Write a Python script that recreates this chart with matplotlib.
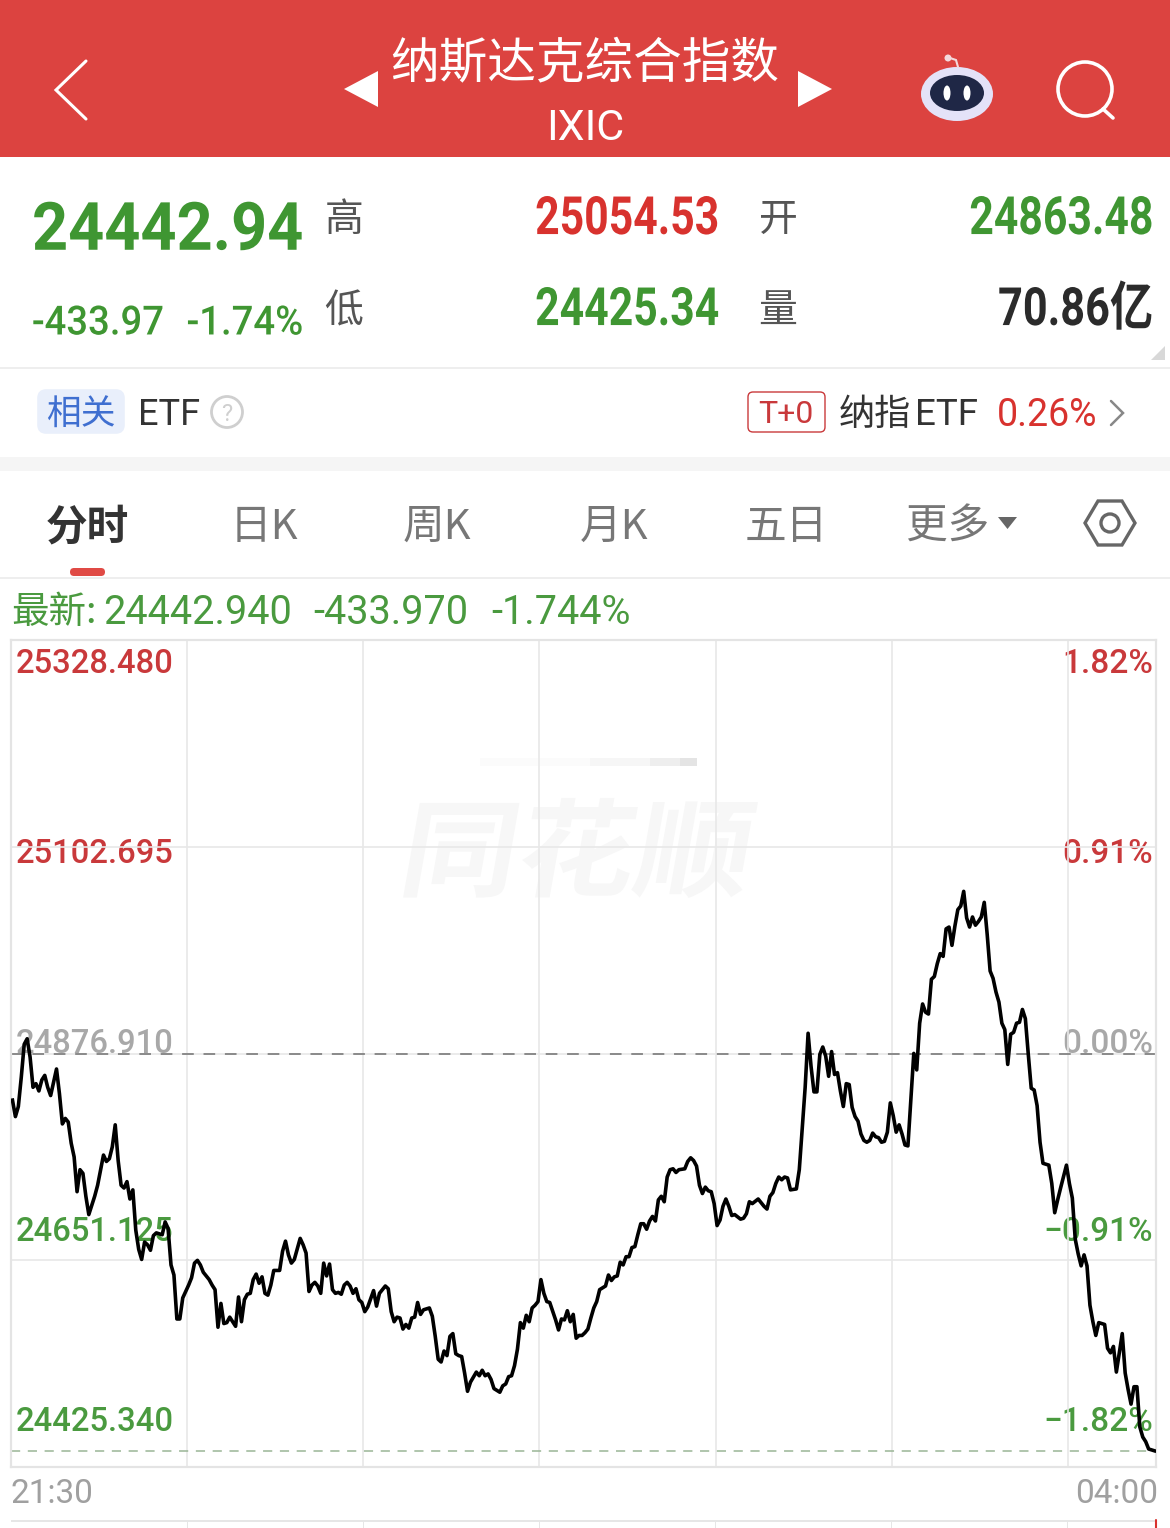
#!/usr/bin/env python3
import numpy as np
import matplotlib
matplotlib.use("Agg")
import matplotlib.pyplot as plt
from matplotlib.patches import Rectangle, FancyBboxPatch, Polygon, Circle, Ellipse, PathPatch
from matplotlib.patheffects import AbstractPathEffect
from matplotlib.textpath import TextPath
from matplotlib.font_manager import FontProperties
from matplotlib.transforms import Affine2D

plt.rcParams['font.family'] = ['Noto Sans CJK SC', 'DejaVu Sans']

W, H = 1170, 1528

#--------------------------------------------------------------------------#
# minutes after 21:30 and index price
minutes = [0,1,2,3,4,5,6,7,8,9,10,11,12,13,15,16,17,18,19,20,21,22,23,24,25,26,28,29,31,32,33,34,35,36,37,38,39,40,
    41,42,43,44,45,46,47,48,49,51,52,53,54,55,56,57,58,60,61,62,63,64,65,67,68,69,70,71,72,73,74,75,76,77,78,79,80,
    81,82,83,84,85,86,87,88,89,91,92,93,94,95,96,98,99,100,101,102,103,104,105,106,107,108,109,110,111,112,113,114,
    115,116,117,118,119,120,121,123,124,125,127,128,129,130,131,132,133,134,135,136,137,138,139,140,142,143,144,145,
    146,147,148,149,150,151,152,153,154,155,156,158,159,160,161,162,163,164,166,167,168,169,170,171,172,173,174,175,
    176,177,178,179,180,181,182,183,185,186,187,188,189,190,191,192,193,194,195,196,197,198,199,200,202,203,204,205,
    206,207,208,209,210,211,212,213,214,215,216,217,218,219,220,221,222,223,224,225,226,227,229,230,231,232,233,234,
    235,236,237,238,239,240,241,242,243,244,245,246,248,249,250,251,252,254,255,256,257,258,259,260,261,262,263,264,
    265,267,268,270,271,272,273,274,275,276,277,278,279,280,281,282,283,284,285,286,287,288,289,290,291,292,293,294,
    295,296,297,298,299,300,301,302,303,304,305,306,307,308,309,310,311,312,313,314,315,316,317,318,319,320,321,322,
    323,324,325,326,327,328,329,330,331,332,333,334,335,336,337,338,339,340,341,342,343,344,345,346,347,348,349,350,
    351,353,354,355,356,357,359,360,361,362,363,364,365,366,367,368,369,370,372,373,374,375,376,378,379,380,381,382,
    383,384,385,386,387,388,389]
prices = [24826,24808,24819,24851,24887,24893,24873,24840,24844,24836,24848,24853,24840,24831,24860,24833,24800,24806,
    24802,24779,24764,24726,24750,24746,24721,24701,24721,24733,24766,24759,24762,24775,24799,24760,24733,24730,24737,
    24718,24728,24684,24663,24652,24671,24668,24662,24678,24681,24679,24693,24686,24646,24635,24587,24587,24610,24624,
    24632,24648,24651,24646,24638,24630,24624,24619,24578,24604,24582,24583,24589,24584,24579,24611,24584,24608,24614,
    24615,24630,24636,24626,24633,24615,24613,24624,24640,24640,24661,24672,24657,24648,24652,24675,24668,24659,24617,
    24624,24627,24623,24615,24648,24634,24647,24619,24615,24616,24614,24624,24627,24623,24615,24620,24608,24605,24595,
    24600,24618,24601,24615,24623,24620,24595,24584,24589,24588,24576,24581,24577,24588,24589,24605,24592,24597,24599,
    24590,24568,24543,24540,24552,24547,24568,24571,24549,24547,24546,24528,24508,24518,24529,24525,24531,24525,24527,
    24521,24511,24507,24514,24516,24524,24525,24536,24554,24583,24577,24591,24584,24599,24602,24606,24630,24615,24606,
    24605,24586,24575,24587,24586,24596,24584,24592,24566,24569,24569,24572,24576,24588,24599,24606,24619,24623,24635,
    24629,24633,24634,24649,24646,24655,24655,24665,24666,24679,24691,24691,24685,24694,24699,24694,24717,24721,24715,
    24742,24750,24751,24747,24750,24751,24759,24763,24760,24754,24733,24724,24731,24727,24726,24713,24689,24695,24710,
    24718,24710,24700,24701,24696,24697,24702,24715,24713,24718,24714,24710,24707,24721,24725,24735,24742,24739,24742,
    24741,24728,24729,24750,24840,24899,24863,24835,24835,24876,24884,24874,24852,24879,24854,24856,24836,24819,24844,
    24843,24818,24808,24803,24789,24782,24780,24782,24790,24786,24785,24780,24781,24791,24823,24809,24791,24799,24789,
    24777,24776,24827,24877,24859,24910,24931,24922,24920,24958,24961,24975,24986,24983,25013,25015,24995,25016,25034,
    25038,25054,25025,25015,25026,25017,25021,25026,25042,25007,24967,24959,24944,24933,24910,24903,24865,24898,24900,
    24910,24911,24925,24915,24876,24839,24837,24820,24780,24757,24755,24735,24703,24717,24730,24755,24735,24719,24674,
    24658,24645,24657,24645,24602,24584,24569,24583,24581,24555,24550,24557,24529,24571,24528,24510,24494,24513,24513,
    24469,24458,24453,24445,24444,24443]

prev_close = 24876.91
last_price = 24442.94
price_labels = ["25328.480", "25102.695", "24876.910", "24651.125", "24425.340"]
price_levels = [25328.48, 25102.695, 24876.91, 24651.125, 24425.34]
pct_labels = ["1.82%", "0.91%", "0.00%", "\u22120.91%", "\u22121.82%"]
label_colors = ["#c9393b", "#c9393b", "#a8a8a8", "#4a9a3f", "#4a9a3f"]
hour_ticks = [0, 60, 120, 180, 240, 300, 360, 390]
tabs = ["分时", "日K", "周K", "月K", "五日", "更多"]

RED = "#dc4340"
GREEN = "#3f9632"
PRICE_RED = "#d8322e"
CJK = ['Noto Sans CJK SC', 'DejaVu Sans']
LAB_FONT = ['Roboto', 'Noto Sans CJK SC']

#--------------------------------------------------------------------------#
class Squeeze(AbstractPathEffect):
    # narrows a text sideways around its anchor, the app uses a condensed face
    def __init__(self, sx, anchor):
        super().__init__()
        self.sx, self.anchor = sx, anchor

    def draw_path(self, renderer, gc, tpath, affine, rgbFace=None):
        t = affine + Affine2D().translate(-self.anchor, 0).scale(self.sx, 1).translate(self.anchor, 0)
        renderer.draw_path(gc, tpath, t, rgbFace)

fig = plt.figure(figsize=(W / 100, H / 100), dpi=100, facecolor="white")

# whole-figure axes in pixels for the app chrome
ui = fig.add_axes([0, 0, 1, 1], zorder=1)
ui.set_xlim(0, W)
ui.set_ylim(H, 0)
ui.axis("off")

def txt(x, y, s, size, color="#333333", ha="left", weight="normal", family=None, zorder=5, sx=None):
    # small downward nudge: the font's line box sits above the glyph centre
    t = ui.text(x, y + 0.12 * size, s, fontsize=size, color=color, ha=ha, va="center", weight=weight,
                family=family or CJK, zorder=zorder)
    if sx:
        t.set_path_effects([Squeeze(sx, x)])
    return t

def stroke(xs, ys, color, lw, zorder=5):
    ui.plot(xs, ys, color=color, lw=lw, solid_capstyle="round", solid_joinstyle="miter", zorder=zorder)

# header
ui.add_patch(Rectangle((0, 0), W, 157, fc=RED, ec="none"))
stroke([86, 56, 86], [61, 90, 119], "white", 2.2)
ui.add_patch(Polygon([[378, 71], [378, 107], [344, 89]], fc="white", ec="none"))
ui.add_patch(Polygon([[798, 71], [798, 107], [832, 89]], fc="white", ec="none"))
txt(585, 59, "纳斯达克综合指数", 35, "white", ha="center")
txt(585, 125, "IXIC", 31, "white", ha="center", family=LAB_FONT)

# robot icon
ui.add_patch(Ellipse((957, 94), 72, 54, fc="#e4e2f8", ec="none", zorder=5))
ui.add_patch(Ellipse((957, 93), 54, 36, fc="#1f2746", ec="none", zorder=6))
ui.add_patch(Ellipse((947, 93), 7, 15, fc="white", ec="none", zorder=7))
ui.add_patch(Ellipse((967, 93), 7, 15, fc="white", ec="none", zorder=7))
ui.add_patch(Circle((948, 58), 3.5, fc="#f3d9dc", ec="none", zorder=6))
stroke([950, 956, 958], [58, 60, 67], "#f3d9dc", 1.5, 5)

# search icon
ui.add_patch(Circle((1085, 89), 27, fc="none", ec="white", lw=2.6, zorder=5))
stroke([1103, 1113], [109, 118], "white", 2.6)

# quote block
txt(32, 226, "24442.94", 48, GREEN, weight="bold", family=LAB_FONT, sx=0.945)
txt(32, 320, "-433.97", 29, GREEN, family=LAB_FONT, sx=0.95, weight="medium")
txt(303, 320, "-1.74%", 29, GREEN, ha="right", family=LAB_FONT, sx=0.95, weight="medium")
txt(344, 217, "高", 28, "#555555", ha="center")
txt(344, 308, "低", 28, "#555555", ha="center")
txt(719, 215, "25054.53", 38, PRICE_RED, ha="right", weight="bold", family=LAB_FONT, sx=0.81)
txt(719, 306, "24425.34", 38, GREEN, ha="right", weight="bold", family=LAB_FONT, sx=0.81)
txt(778, 217, "开", 28, "#555555", ha="center")
txt(778, 308, "量", 28, "#555555", ha="center")
txt(1153, 215, "24863.48", 38, GREEN, ha="right", weight="bold", family=LAB_FONT, sx=0.81)
txt(1153, 306, "70.86亿", 38, "#2b2b2b", ha="right", weight="bold", family=LAB_FONT, sx=0.82)
ui.add_patch(Polygon([[1165, 346], [1165, 360], [1151, 360]], fc="#d8d8d8", ec="none"))
ui.add_patch(Rectangle((0, 367), W, 2, fc="#eeeeee", ec="none"))

# ETF row
ui.add_patch(FancyBboxPatch((40, 392), 82, 39, boxstyle="round,pad=0,rounding_size=6", fc="#e9effb", ec="#e9effb", lw=4))
txt(81, 412, "相关", 25, "#3f6fd0", ha="center")
txt(138, 412, "ETF", 26, "#333333", family=LAB_FONT)
ui.add_patch(Circle((227, 412), 15.5, fc="none", ec="#cfcfcf", lw=2))
txt(227, 412, "?", 17, "#cfcfcf", ha="center", family=LAB_FONT)
ui.add_patch(FancyBboxPatch((748, 392), 77, 40, boxstyle="round,pad=0,rounding_size=5", fc="white", ec="#c9393b", lw=1))
txt(786, 412, "T+0", 23, "#c9393b", ha="center", family=LAB_FONT)
txt(839, 412, "纳指", 26, "#333333")
txt(915, 412, "ETF", 26.5, "#333333", family=LAB_FONT)
txt(1097, 412, "0.26%", 27, "#d8322e", ha="right", family=LAB_FONT)
stroke([1111, 1123, 1111], [401, 413, 425], "#888888", 1.8)
ui.add_patch(Rectangle((0, 457), W, 14, fc="#f5f5f5", ec="none"))

# tabs
tab_x = [87, 264, 437, 614, 786, 948]
for i, (name, cx) in enumerate(zip(tabs, tab_x)):
    if i == 0:
        txt(cx, 524, name, 30, "#333333", ha="center", weight="bold")
    else:
        txt(cx, 524, name, 30, "#777777", ha="center")
ui.add_patch(Polygon([[998, 517], [1017, 517], [1007.5, 529]], fc="#666666", ec="none"))
ui.add_patch(FancyBboxPatch((70, 568), 35, 8, boxstyle="round,pad=0,rounding_size=4", fc="#e04a45", ec="none"))
ui.add_patch(Polygon([[1085, 523], [1098, 501], [1122, 501], [1135, 523], [1122, 545], [1098, 545]],
                     fc="none", ec="#666666", lw=2.4))
ui.add_patch(Circle((1110, 523), 9, fc="none", ec="#666666", lw=2.4))
ui.add_patch(Rectangle((0, 577), W, 1.5, fc="#eeeeee", ec="none"))
txt(11, 609, "最新:", 27, "#4a9a3f")
txt(103, 609, "24442.940", 28.5, "#4a9a3f", family=LAB_FONT)
txt(313, 609, "-433.970", 28.5, "#4a9a3f", family=LAB_FONT)
txt(491, 609, "-1.744%", 28.5, "#4a9a3f", family=LAB_FONT)

# sliver of the volume panel under the time labels
ui.add_patch(Rectangle((11, 1520), 1146, 1.5, fc="#e6e6e6", ec="none"))
for gx in [187, 363, 539, 715, 891, 1067]:
    ui.add_patch(Rectangle((gx, 1520), 1.2, 8, fc="#e6e6e6", ec="none"))
stroke([1156, 1156], [1520, 1528], "#d8322e", 1.5)

#--------------------------------------------------------------------------#
# price chart on real axes: y span runs symmetric around the previous close
x0, x1, y0, y1 = 11, 1156, 640, 1467
ax = fig.add_axes([x0 / W, 1 - y1 / H, (x1 - x0) / W, (y1 - y0) / H], zorder=2)
ax.patch.set_alpha(0)
ax.set_xlim(0, 390)
ax.set_ylim(price_levels[-1], price_levels[0])
for s in ax.spines.values():
    s.set_color("#e4e4e4")
    s.set_linewidth(1.6)
ax.tick_params(length=0, labelleft=False, labelbottom=False)
ax.set_xticks(hour_ticks[1:-1])
ax.set_yticks(price_levels[1:-1])
ax.grid(True, color="#e8e8e8", lw=1.2)
ax.set_axisbelow(True)

ax.axhline(prev_close, color="#8a8a8a", lw=1.4, dashes=(6, 5), zorder=2)
ax.axhline(last_price, color="#9ab596", lw=1.1, dashes=(6, 5), zorder=2)
# each one-minute point sits in the middle of its minute
ax.plot(np.array(minutes) + 0.5, prices, color="black", lw=2.6, solid_joinstyle="round", zorder=6)

# watermark, sheared like the italic logo
fp = FontProperties(family="Noto Sans CJK SC", weight="bold")
wm = TextPath((0, 0), "同花顺", size=100, prop=fp)
tr = Affine2D().scale(1.17, -1.06).skew_deg(-10, 0).translate(396, 888) + ui.transData
ui.add_patch(PathPatch(wm, fc="#f7f7f7", ec="none", transform=tr, zorder=1))
for bx, bw, col in [(480, 110, "#fbfbfb"), (590, 60, "#f6f6f6"), (650, 30, "#eeeeee"), (680, 17, "#e4e4e4")]:
    ui.add_patch(Rectangle((bx, 758), bw, 8, fc=col, ec="none", zorder=1))

ylab = [661, 851, 1041, 1229, 1419]
for lab, pct, col, yy in zip(price_labels, pct_labels, label_colors, ylab):
    txt(16, yy, lab, 23.6, col, family=LAB_FONT, zorder=8, weight="medium")
    txt(1153, yy, pct, 24, col, ha="right", family=LAB_FONT, zorder=8, weight="medium")

txt(11, 1491, "21:30", 24, "#a0a0a0", family=LAB_FONT)
txt(1158, 1491, "04:00", 24, "#a0a0a0", ha="right", family=LAB_FONT)

fig.savefig("out.png", dpi=100)
print("done")
